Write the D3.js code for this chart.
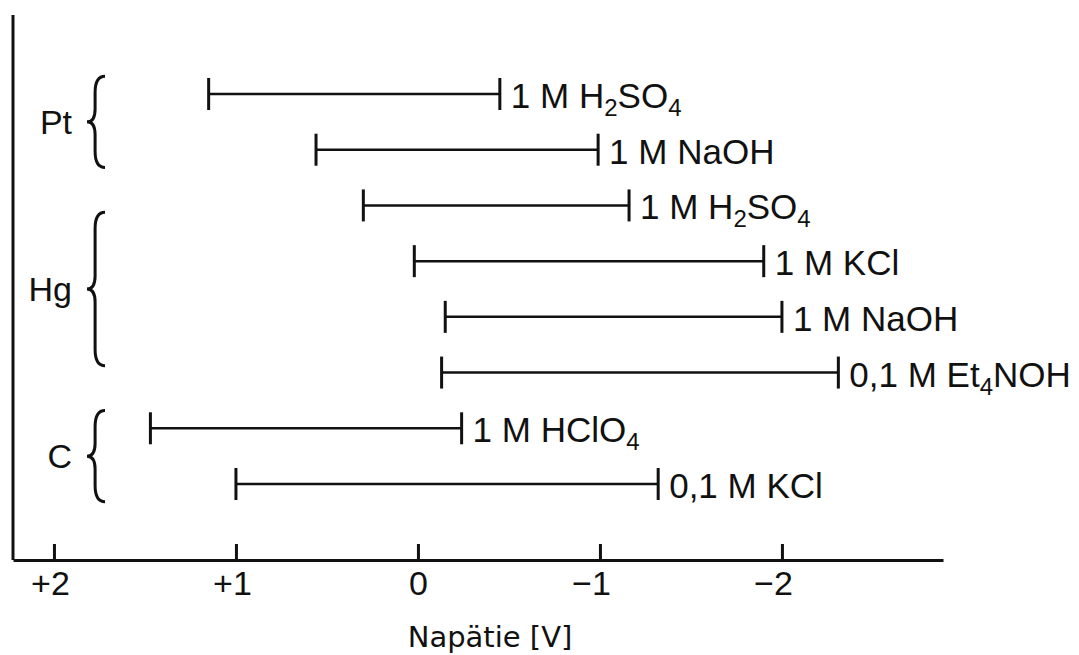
<!DOCTYPE html>
<html>
<head>
<meta charset="utf-8">
<script src="https://cdn.jsdelivr.net/npm/d3@7"></script>
<style>
  body { margin: 0; background: #fff; }
  text { font-family: "Liberation Sans", Arial, sans-serif; fill: #111; }
</style>
</head>
<body>
<div class="chart"></div>
<script>
// potential windows of electrodes in various electrolytes
const electrodes = ['Pt', 'Pt', 'Hg', 'Hg', 'Hg', 'Hg', 'C', 'C'];
const electrolytes = ['1 M H_2SO_4', '1 M NaOH', '1 M H_2SO_4', '1 M KCl', '1 M NaOH', '0,1 M Et_4NOH', '1 M HClO_4', '0,1 M KCl'];
const anodicLimit = [1.15, 0.56, 0.30, 0.02, -0.15, -0.13, 1.47, 1.0];
const cathodicLimit = [-0.45, -0.99, -1.16, -1.90, -2.0, -2.31, -0.24, -1.32];
const groups = ['Pt', 'Hg', 'C'];
const tickValues = [2, 1, 0, -1, -2];

const width = 1079;
const height = 655;

const svg = d3.select('.chart')
	.append('svg')
		.attr('width', width)
		.attr('height', height);

const rows = d3.range(electrodes.length);

// voltage axis runs from positive (left) to negative (right)
const xScale = d3.scaleLinear()
	.domain([2.225, -2.885])
	.range([13, 943]);

const yScale = d3.scalePoint()
	.domain(rows)
	.range([94, 484]);

const axisY = 560;

// left vertical line
svg.append('line')
	.attr('x1', xScale.range()[0]).attr('x2', xScale.range()[0])
	.attr('y1', 15).attr('y2', axisY)
	.attr('stroke', '#111').attr('stroke-width', 3);

const fmt = v => v > 0 ? '+' + v : v < 0 ? '\u2212' + Math.abs(v) : '0';

const xAxis = d3.axisBottom(xScale)
	.tickValues(tickValues)
	.tickSizeInner(-16)
	.tickSizeOuter(0)
	.tickFormat(fmt);

const gx = svg.append('g')
	.attr('transform', `translate(0, ${axisY})`)
	.call(xAxis);
gx.select('.domain').attr('stroke', '#111').attr('stroke-width', 3);
gx.selectAll('.tick line').attr('stroke', '#111').attr('stroke-width', 3);
gx.selectAll('.tick text')
	.attr('y', 35)
	.attr('dy', 0)
	.attr('dx', d => d === 0 ? 0 : (d > 0 ? -4 : -9))
	.style('font-family', '"Liberation Sans", Arial, sans-serif')
	.style('font-size', '34px')
	.attr('fill', '#111');

svg.append('text')
	.attr('x', 490)
	.attr('y', 647)
	.attr('text-anchor', 'middle')
	.style('font-family', '"DejaVu Sans", Verdana, sans-serif')
	.style('font-size', '29px')
	.text('Napätie [V]');

// ranges
const bars = svg.append('g');
const capH = 16;
rows.forEach(i => {
	const y = yScale(i);
	const x0 = xScale(anodicLimit[i]);
	const x1 = xScale(cathodicLimit[i]);
	bars.append('line')
		.attr('x1', x0).attr('x2', x1).attr('y1', y).attr('y2', y)
		.attr('stroke', '#111').attr('stroke-width', 2.5);
	[x0, x1].forEach(x => bars.append('line')
		.attr('x1', x).attr('x2', x).attr('y1', y - capH).attr('y2', y + capH)
		.attr('stroke', '#111').attr('stroke-width', 3));

	// label with subscripts written as _n
	const t = bars.append('text')
		.attr('x', x1 + 11)
		.attr('y', y + 14)
		.style('font-size', '35px');
	let sub = false;
	electrolytes[i].split(/(_\d)/).filter(s => s).forEach(part => {
		if (part[0] === '_') {
			t.append('tspan').attr('dy', 8).style('font-size', '24px').text(part.slice(1));
			sub = true;
		} else {
			t.append('tspan').attr('dy', sub ? -8 : 0).text(part);
			sub = false;
		}
	});
});

// curly braces with electrode names
function bracePath(x, y0, y1, w) {
	const ym = (y0 + y1) / 2;
	const xr = x + w;
	const xm = x + w * 0.45;
	const r = w * 0.9;
	return `M${xr},${y0} Q${xm},${y0} ${xm},${y0 + r} L${xm},${ym - r * 0.8} ` +
		`Q${xm},${ym} ${x},${ym} Q${xm},${ym} ${xm},${ym + r * 0.8} ` +
		`L${xm},${y1 - r} Q${xm},${y1} ${xr},${y1}`;
}

const step = yScale.step();
groups.forEach(g => {
	const idx = rows.filter(i => electrodes[i] === g);
	const ys = idx.map(i => yScale(i));
	const cy = d3.mean(ys);
	const half = 30 + (idx.length - 1) * step * 0.28;
	svg.append('path')
		.attr('d', bracePath(87, cy - half, cy + half, 18))
		.attr('fill', 'none')
		.attr('stroke', '#111')
		.attr('stroke-width', 3);
	svg.append('text')
		.attr('x', 72)
		.attr('y', cy + 12)
		.attr('text-anchor', 'end')
		.style('font-size', '34px')
		.text(g);
});
</script>
</body>
</html>
